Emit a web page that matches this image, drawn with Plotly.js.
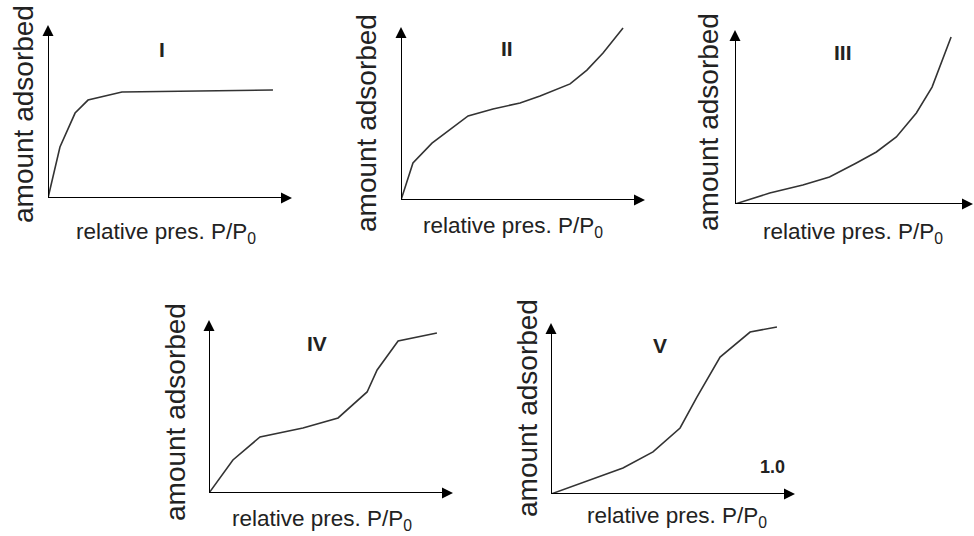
<!DOCTYPE html>
<html>
<head>
<meta charset="utf-8">
<script src="https://cdn.plot.ly/plotly-3.0.1.min.js"></script>
<style>html,body{margin:0;padding:0;background:#fff;}#chart{width:974px;height:536px;}</style>
</head>
<body>
<div id="chart"></div>
<script>
// Isotherm shapes: x = relative pressure P/P0 (0..1), y = amount adsorbed (0..1, relative)
const typeLabels = ["I", "II", "III", "IV", "V"];
const xLabel = "relative pres. P/P<sub>0</sub>";
const yLabel = "amount adsorbed";

const xI   = [0, 0.049, 0.111, 0.164, 0.303, 0.922];
const yI   = [0, 0.295, 0.491, 0.566, 0.613, 0.624];

const xII  = [0, 0.049, 0.127, 0.201, 0.275, 0.377, 0.488, 0.570, 0.693, 0.762, 0.828, 0.910];
const yII  = [0, 0.214, 0.329, 0.405, 0.486, 0.526, 0.561, 0.601, 0.671, 0.751, 0.850, 0.994];

const xIII = [0, 0.146, 0.285, 0.397, 0.510, 0.594, 0.678, 0.762, 0.828, 0.870, 0.908];
const yIII = [0, 0.063, 0.109, 0.155, 0.236, 0.299, 0.385, 0.523, 0.672, 0.828, 0.960];

const xIV  = [0, 0.098, 0.209, 0.385, 0.529, 0.648, 0.689, 0.775, 0.934];
const yIV  = [0, 0.191, 0.324, 0.376, 0.434, 0.584, 0.711, 0.879, 0.925];

const xV   = [0, 0.160, 0.295, 0.418, 0.529, 0.598, 0.693, 0.816, 0.926];
const yV   = [0, 0.082, 0.152, 0.246, 0.386, 0.567, 0.801, 0.947, 0.977];

const extraLabel = "1.0";

const W = 974, H = 536;
const px = v => v / W;
const py = v => 1 - v / H;

// panel geometry in pixels: origin (ox, oy), x-arrow tip xt, y-arrow tip yt
const panels = [
  {ox: 48,  oy: 198, xt: 292, yt: 25,  yl: [23, 114],  xl: [166, 233], rl: [162, 50]},
  {ox: 401, oy: 200, xt: 645, yt: 27,  yl: [367, 123], xl: [513, 227], rl: [507, 48]},
  {ox: 735, oy: 204, xt: 973, yt: 30,  yl: [708, 122], xl: [853, 233], rl: [843, 53]},
  {ox: 209, oy: 493, xt: 453, yt: 320, yl: [175, 412], xl: [322, 520], rl: [317, 343]},
  {ox: 551, oy: 494, xt: 795, yt: 323, yl: [527, 408], xl: [677, 517], rl: [660, 345]}
];
const series = [[xI, yI], [xII, yII], [xIII, yIII], [xIV, yIV], [xV, yV]];

const data = [];
const layout = {
  width: W, height: H,
  margin: {l: 0, r: 0, t: 0, b: 0},
  paper_bgcolor: "#fff", plot_bgcolor: "rgba(0,0,0,0)",
  showlegend: false,
  annotations: [],
  shapes: []
};
const font = "Liberation Sans, Arial, sans-serif";

panels.forEach((p, i) => {
  const n = i + 1;
  const sfx = n === 1 ? "" : String(n);
  const xa = "x" + sfx, ya = "y" + sfx;
  const axOpts = {range: [0, 1], showgrid: false, zeroline: false, fixedrange: true,
    showticklabels: false, ticks: "", showline: false};
  layout["xaxis" + sfx] = Object.assign({domain: [px(p.ox), px(p.xt)], anchor: ya}, axOpts);
  layout["yaxis" + sfx] = Object.assign({domain: [py(p.oy), py(p.yt)], anchor: xa}, axOpts);

  // axis lines (stop a little short of the tip; arrowheads cover the end)
  layout.shapes.push({type: "line", xref: xa, yref: ya, x0: 0, y0: 0, x1: 0.97, y1: 0,
    line: {color: "#000", width: 2}});
  layout.shapes.push({type: "line", xref: xa, yref: ya, x0: 0, y0: 0, x1: 0, y1: 0.96,
    line: {color: "#000", width: 2}});

  data.push({
    x: series[i][0], y: series[i][1], xaxis: xa, yaxis: ya,
    type: "scatter", mode: "lines",
    line: {color: "#333", width: 1.6},
    hoverinfo: "skip", cliponaxis: false
  });

  // arrowheads
  data.push({
    x: [1, 0], y: [0, 1], xaxis: xa, yaxis: ya,
    type: "scatter", mode: "markers",
    marker: {symbol: ["arrow-right", "arrow-up"], size: 11, color: "#000", line: {width: 0}},
    hoverinfo: "skip", cliponaxis: false
  });

  // labels
  layout.annotations.push({text: yLabel, textangle: -90, x: px(p.yl[0]), y: py(p.yl[1]),
    xref: "paper", yref: "paper", showarrow: false, xanchor: "center", yanchor: "middle",
    font: {family: font, size: 28, color: "#222"}});
  layout.annotations.push({text: xLabel, x: px(p.xl[0]), y: py(p.xl[1]),
    xref: "paper", yref: "paper", showarrow: false, xanchor: "center", yanchor: "middle",
    font: {family: font, size: 22.5, color: "#222"}});
  layout.annotations.push({text: "<b>" + typeLabels[i] + "</b>", x: px(p.rl[0]), y: py(p.rl[1]),
    xref: "paper", yref: "paper", showarrow: false, xanchor: "center", yanchor: "middle",
    font: {family: font, size: 21, color: "#222"}});
});

layout.annotations.push({text: "<b>" + extraLabel + "</b>", x: px(772), y: py(467),
  xref: "paper", yref: "paper", showarrow: false, xanchor: "center", yanchor: "middle",
  font: {family: font, size: 18, color: "#222"}});

Plotly.newPlot("chart", data, layout, {displayModeBar: false, staticPlot: true});
</script>
</body>
</html>
